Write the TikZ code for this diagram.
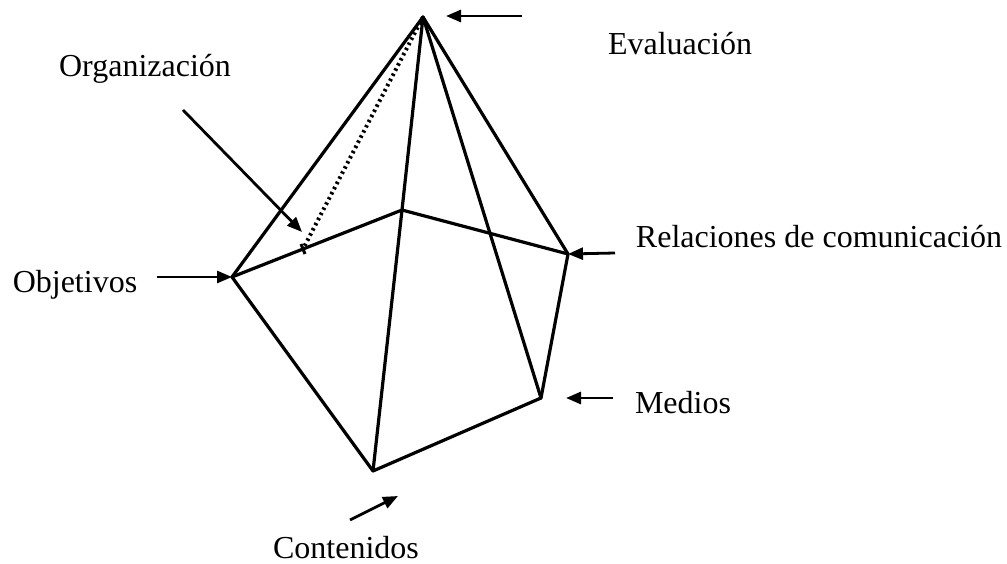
\documentclass[tikz,border=0pt]{standalone}
\usepackage{fontspec}
\setmainfont{Liberation Serif}
\usetikzlibrary{
		calc,
		positioning,
		arrows.meta
	}
\tikzset{
		>={Triangle[length=15pt,width=12pt]},
		edge/.style={draw=black, line width=3.2pt, line cap=round, line join=round},
		hidden/.style={draw=black, line width=4pt, dash pattern=on 2.4pt off 3.4pt},
		pointer/.style={->, draw=black, line width=2.8pt},
		lbl/.style={font=\fontsize{32}{38}\selectfont, inner sep=0pt, anchor=base}
	}

\begin{document}
\begin{tikzpicture}[x=1pt, y=-1pt]
		\useasboundingbox (0,0) rectangle (1007,564);
		% vertices of the pyramid
		\coordinate (apex) at (423,17);
		\coordinate (obj) at (232,277);
		\coordinate (back) at (402,210);
		\coordinate (rel) at (568,254);
		\coordinate (med) at (541,398);
		\coordinate (cont) at (373,471);
		\coordinate (orgfoot) at (303,249);
		% base
		\draw[edge] (obj) -- (back) -- (rel) -- (med) -- (cont) -- cycle;
		% sides
		\draw[edge] (apex) -- (obj);
		\draw[edge] (apex) -- (back) -- (cont);
		\draw[edge] (apex) -- (med);
		\draw[edge] (apex) -- (rel);
		\draw[hidden] (apex) -- (orgfoot);
		\draw[line width=3pt] ($(orgfoot)+(-2,-5)$) -- ($(orgfoot)+(2,5)$);
		% labels
		\node[lbl] (evaluacion) at (680,55) {Evaluación};
		\node[lbl] (organizacion) at (145,77) {Organización};
		\node[lbl] (objetivos) at (75,292) {Objetivos};
		\node[lbl] (relaciones) at (819,248) {Relaciones de comunicación};
		\node[lbl] (medios) at (683,413) {Medios};
		\node[lbl] (contenidos) at (346,558) {Contenidos};
		% pointers
		\coordinate (evaltail) at (522,16);
		\coordinate (evaltip) at (446,16);
		\coordinate (orgtail) at (183,110);
		\coordinate (orgtip) at (302,232);
		\coordinate (objtail) at (157,277);
		\coordinate (reltail) at (615,253);
		\coordinate (medtail) at (613,398);
		\coordinate (medtip) at (566,398);
		\coordinate (conttail) at (350,520);
		\coordinate (conttip) at (398,496);
		\draw[pointer] (evaltail) -- (evaltip);
		\draw[pointer] (orgtail) -- (orgtip);
		\draw[pointer] (objtail) -- (obj);
		\draw[pointer] (reltail) -- (rel);
		\draw[pointer] (medtail) -- (medtip);
		\draw[pointer] (conttail) -- (conttip);
	\end{tikzpicture}
\end{document}
